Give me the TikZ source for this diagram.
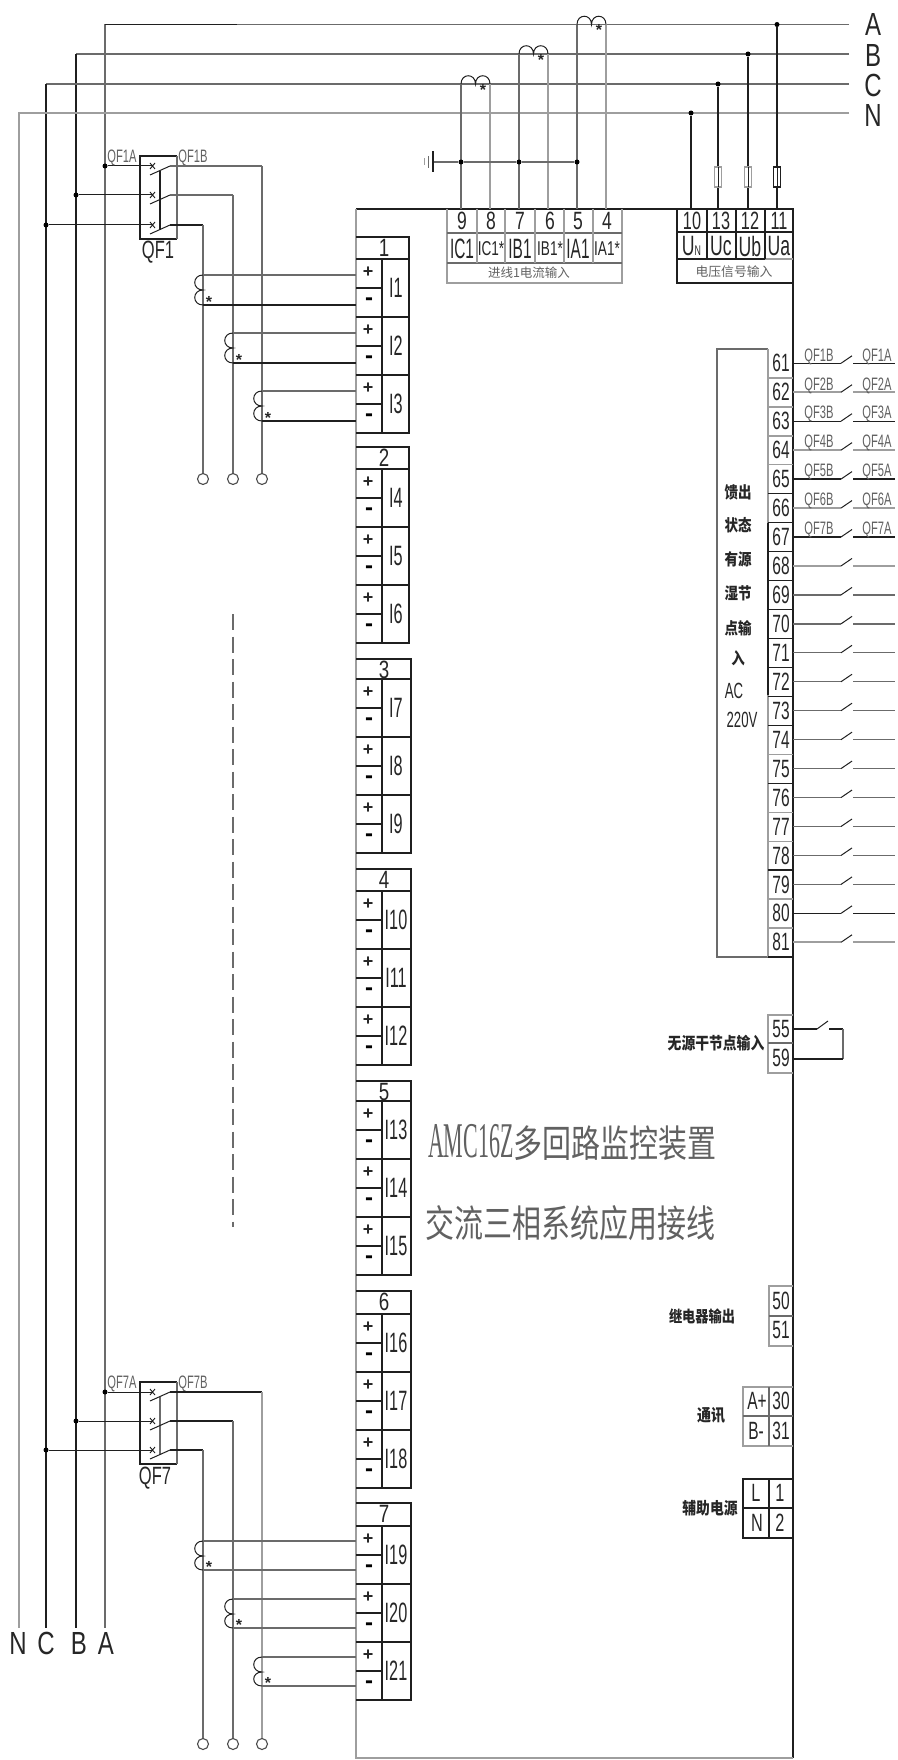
\documentclass[tikz,border=0pt]{standalone}
\usepackage{fontspec}
\setmainfont{Liberation Sans}
\newfontfamily\cjk{Noto Sans CJK SC}
\newfontfamily\srf{Liberation Serif}
\newcommand{\tx}[3]{\scalebox{#1}[1]{\fontsize{#2}{#2}\selectfont #3}}
\newcommand{\cj}[2]{{\cjk\fontsize{#1}{#1}\selectfont #2}}
\newcommand{\cjb}[2]{\scalebox{1}[1.2]{\cjk\fontsize{#1}{#1}\selectfont\bfseries #2}}
\newcommand{\cjt}[1]{\scalebox{1}[1.3]{\cjk\fontsize{29}{29}\selectfont #1}}
\tikzset{
  wk/.style={line width=1.3pt,draw=black!88},
  wm/.style={line width=1.3pt,draw=black!58},
  wg/.style={line width=1.8pt,draw=black!38},
  lb/.style={inner sep=0pt,outer sep=0pt,text=black!85},
  lg/.style={inner sep=0pt,outer sep=0pt,text=black!62},
  dot/.style={circle,fill=black,inner sep=0pt,minimum size=5pt},
  ring/.style={circle,draw=black!70,line width=1.1pt,fill=white,inner sep=0pt,minimum size=11pt},
}
\begin{document}
\begin{tikzpicture}[x=1pt,y=-1pt]
\useasboundingbox (0,0) rectangle (897,1760);
% bus coordinates
\coordinate (Ae) at (849,24.5);\coordinate (Be) at (849,54);\coordinate (Ce) at (849,84);\coordinate (Ne) at (849,113);
\coordinate (Ac) at (105,24.5);\coordinate (Bc) at (76,54);\coordinate (Cc) at (46,84);\coordinate (Nc) at (19,113);
\coordinate (Ab) at (105,1628);\coordinate (Bb) at (76,1628);\coordinate (Cb) at (46,1628);\coordinate (Nb) at (19,1628);
\coordinate (Am) at (237,24.5);
\draw[wm] (Ae) -- (Ac) -- (Ab);
\draw[wk] (Am) -- (Ac);
\draw[wm] (Be) -- (Bc);
\draw[wk] (Bc) -- (Bb);
\draw[wm] (Ce) -- (Cc);
\draw[wk] (Cc) -- (Cb);
\draw[wg] (Ne) -- (Nc) -- (Nb);
\node[lb] (lA) at (873,24) {\tx{.75}{32}{A}};
\node[lb] (lB) at (873,55) {\tx{.75}{32}{B}};
\node[lb] (lC) at (873,85) {\tx{.75}{32}{C}};
\node[lb] (lN) at (873,115) {\tx{.75}{32}{N}};
\node[lb] (bN) at (18,1643) {\tx{.75}{32}{N}};
\node[lb] (bC) at (46,1643) {\tx{.75}{32}{C}};
\node[lb] (bB) at (79,1643) {\tx{.75}{32}{B}};
\node[lb] (bA) at (106,1643) {\tx{.75}{32}{A}};
% main device frame
\coordinate (mTL) at (356,209);\coordinate (mTR) at (793,209);\coordinate (mBR) at (793,1758);\coordinate (mBL) at (356,1758);
\draw[wk] (mTL) -- (mTR) -- (mBR);
\draw[wg] (mBR) -- (mBL) -- (mTL);
% breakers
\foreach \q/\bt/\bb/\ya/\yb/\yc/\lx/\ly/\st in {1/156/239/166/195/225/158/252/wk,7/1382/1464/1392/1421/1450/155/1478/wm}{
  \coordinate (q\q tl) at (140,\bt);\coordinate (q\q tr) at (177,\bt);
  \coordinate (q\q bl) at (140,\bb);\coordinate (q\q br) at (177,\bb);
  \draw[wk] (q\q tr) -- (q\q tl) -- (q\q bl) -- (q\q br);
  \draw[wm] (q\q tr) -- (q\q br);
  \coordinate (q\q ma) at (160,\ya+5);\coordinate (q\q mc) at (160,\yc+5);
  \draw[\st] (q\q ma) -- (q\q mc);
  \foreach \yy/\bx in {\ya/105,\yb/76,\yc/46}{
    \node[dot] (j\q\bx) at (\bx,\yy) {};
    \coordinate (s\q\bx) at (153,\yy);
    \coordinate (t\q\bx) at (170,\yy);
    \coordinate (u\q\bx) at (150,\yy+9);
    \draw[wk,line width=1pt] (j\q\bx) -- (s\q\bx);
    \draw[wk,line width=.9pt] (150,\yy-3) -- (155,\yy+3) (150,\yy+3) -- (155,\yy-3);
    \draw[wk,line width=1pt] (u\q\bx) -- (t\q\bx);
  }
  \node[lb] (qn\q) at (\lx,\ly) {\tx{.66}{25}{QF\q}};
  \node[lg] (qa\q) at (122,\bt+2) {\tx{.62}{18}{QF\q A}};
  \node[lg] (qb\q) at (193,\bt+2) {\tx{.62}{18}{QF\q B}};
}
% breaker outputs
\foreach \yy/\xo/\st in {166/262/wm,195/233/wm,225/203/wk,1392/262/wk,1421/233/wk,1450/203/wk}{
  \coordinate (oa\yy) at (170,\yy);\coordinate (ob\yy) at (\xo,\yy);
  \draw[\st] (oa\yy) -- (ob\yy);
}
\foreach \xo in {203,233,262}{
  \node[ring] (r\xo) at (\xo,479) {};
  \node[ring] (R\xo) at (\xo,1744) {};
}
\draw[wm] (ob225) -- (r203);
\draw[wm] (ob195) -- (r233);
\draw[wm] (ob166) -- (r262);
\draw[wm] (ob1450) -- (R203);
\draw[wm] (ob1421) -- (R233);
\draw[wg,line width=1.5pt] (ob1392) -- (R262);
\coordinate (dsa) at (233,614);\coordinate (dsb) at (233,1227);
\draw[wm,line width=1.4pt,dash pattern=on 16pt off 6.5pt] (dsa) -- (dsb);
% current transformers to modules
\foreach \xc/\yt/\yb/\st in {203/275/305/wk,233/333/363/wk,262/391/421/wk,203/1541/1570/wm,233/1599/1628/wm,262/1657/1686/wm}{
  \coordinate (ca\yt) at (\xc,\yt);\coordinate (cb\yt) at (\xc,\yb);
  \coordinate (ea\yt) at (356,\yt);\coordinate (eb\yt) at (356,\yb);
  \draw[wm,line width=1.1pt] (ca\yt) -- (ea\yt);
  \draw[\st] (cb\yt) -- (eb\yt);
  \draw[wk,line width=1pt] (ca\yt) .. controls (\xc-11,\yt) and (\xc-11,\yt+15) .. (\xc,\yt+15) .. controls (\xc-11,\yt+15) and (\xc-11,\yb) .. (cb\yt);
  \node[lb] (st\yt) at (\xc+6,\yb-3) {\tx{1}{16}{\textbf{*}}};
}
% top current transformers
\foreach \xa/\xb/\yb/\tp in {461/490/84/1,519/548/54/2,577/606/24.5/3}{
  \coordinate (ct\tp a) at (\xa,209);\coordinate (ct\tp b) at (\xb,209);
  \coordinate (cu\tp a) at (\xa,\yb);\coordinate (cu\tp b) at (\xb,\yb);
  \draw[wm] (ct\tp a) -- (cu\tp a);
  \draw[wg] (ct\tp b) -- (cu\tp b);
  \draw[wk,line width=1pt] (cu\tp a) .. controls (\xa,\yb-11) and (\xa+14.5,\yb-11) .. (\xa+14.5,\yb) .. controls (\xa+14.5,\yb-11) and (\xb,\yb-11) .. (cu\tp b);
  \node[lb] (sx\tp) at (\xb-7,\yb+6) {\tx{1}{16}{\textbf{*}}};
}
% ground
\node[dot] (g1) at (461,162) {};\node[dot] (g2) at (519,162) {};\node[dot] (g3) at (577,162) {};
\coordinate (g0) at (433,162);
\draw[wm] (g0) -- (g1) -- (g2) -- (g3);
\draw[wk,line width=1.5pt] (433,151.5) -- (433,172.5);
\draw[wm,line width=1.2pt] (428.5,156) -- (428.5,168);
\draw[wg,line width=1.2pt] (424.5,158.5) -- (424.5,165.5);
% voltage inputs
\foreach \xw/\yt/\tp in {691/113/u,718/84/c,748/54/b,777/24.5/a}{
  \node[dot] (v\tp) at (\xw,\yt) {};
  \coordinate (vt\tp) at (\xw,209);
  \draw[wk] (v\tp) -- (vt\tp);
}
\foreach \xw/\st in {718/wg,748/wg,777/wk}{
  \draw[\st,line width=1.2pt,fill=white] (\xw-3.5,167) rectangle (\xw+3.5,187);
  \draw[wk,line width=1pt] (\xw,167) -- (\xw,187);
}
% current terminal block
\draw[wg,line width=1.4pt] (447,209) -- (447,283) -- (622,283) -- (622,209);
\draw[wm,line width=1.1pt] (447,233) -- (622,233) (447,263) -- (622,263);
\foreach \xx in {477,505,535,564,593}{\draw[wg,line width=1.4pt] (\xx,209) -- (\xx,263);}
\foreach \xx/\nn/\lbl/\fs/\sx in {462/9/IC1/28/.55,491/8/IC1*/20/.68,520/7/IB1/28/.55,550/6/IB1*/20/.68,578/5/IA1/28/.55,607/4/IA1*/20/.68}{
  \node[lb] (tn\nn) at (\xx,221) {\tx{.7}{25}{\nn}};
  \node[lb] (tl\nn) at (\xx,249) {\tx{\sx}{\fs}{\lbl}};
}
\node[lg] (cap1) at (529,273) {\cj{12.5}{进线1电流输入}};
% voltage terminal block
\draw[wk] (677,209) -- (677,283) -- (793,283);
\draw[wk] (677,232) -- (793,232);
\draw[wk] (677,259) -- (765,259);
\draw[wg,line width=1.4pt] (765,259) -- (793,259);
\foreach \xx in {707,736,765}{\draw[wk] (\xx,209) -- (\xx,259);}
\foreach \xx/\nn in {692/10,721/13,750/12,779/11}{\node[lb] (vn\nn) at (\xx,221) {\tx{.65}{25}{\nn}};}
\node[lb] (vl1) at (691.5,246) {\tx{.63}{28}{U{\fontsize{14}{14}\selectfont N}}};
\node[lb] (vl2) at (721,246) {\tx{.63}{28}{Uc}};
\node[lb] (vl3) at (750,246) {\tx{.63}{28}{Ub}};
\node[lb] (vl4) at (779,246) {\tx{.63}{28}{Ua}};
\node[lg] (cap2) at (734,272) {\cj{12.8}{电压信号输入}};
% current input modules
\foreach \m/\tp/\hb/\rx/\first in {1/237/259/409/1,2/447/469/409/4,3/659/679/411/7,4/869/891/411/10,5/1081/1101/411/13,6/1291/1314/411/16,7/1503/1526/411/19}{
  \coordinate (mo\m a) at (356,\tp);\coordinate (mo\m b) at (\rx,\tp);
  \coordinate (mo\m c) at (\rx,\hb+174);\coordinate (mo\m d) at (356,\hb+174);
  \draw[wk] (mo\m a) -- (mo\m b) -- (mo\m c) -- (mo\m d);
  \draw[wk] (356,\hb) -- (\rx,\hb);
  \draw[wk] (382,\hb) -- (382,\hb+174);
  \node[lb] (mn\m) at (384,\tp+11) {\tx{.75}{25}{\m}};
  \foreach \k in {0,1,2}{
    \pgfmathtruncatemacro{\idx}{\first+\k}
    \pgfmathsetmacro{\yy}{\hb+58*\k}
    \draw[wk] (356,\yy+29) -- (382,\yy+29);
    \ifnum\k>0 \draw[wk] (356,\yy) -- (\rx,\yy);\fi
    \node[lb] (pl\idx) at (368,\yy+13) {\tx{1}{18}{\textbf{+}}};
    \node[lb,text=black] (mi\idx) at (369,\yy+43) {\tx{1}{24}{\textbf{-}}};
    \node[lb] (ii\idx) at (396,\yy+29) {\tx{.58}{28}{I\idx}};
  }
}
% digital input panel
\coordinate (pa) at (768,349);\coordinate (pb) at (717,349);\coordinate (pc) at (717,957);\coordinate (pd) at (793,957);
\draw[wm] (pa) -- (pb) -- (pc) -- (pd);
\draw[wg,line width=2pt] (768,349) -- (768,523);
\draw[wk] (768,523) -- (768,695);
\draw[wg,line width=2pt] (768,695) -- (768,957);
\foreach \n/\st/\wl in {61/wg/wk,62/wg/wg,63/wg/wk,64/wg/wg,65/wk/wk,66/wk/wg,67/wk/wk,68/wk/wg,69/wk/wm,70/wk/wm,71/wk/wm,72/wk/wm,73/wk/wm,74/wg/wm,75/wk/wm,76/wg/wm,77/wg/wm,78/wk/wm,79/wg/wm,80/wg/wk,81/wk/wg}{
  \pgfmathsetmacro{\yt}{349+28.95*(\n-61)}
  \pgfmathsetmacro{\ym}{\yt+14.3}
  \draw[\st,line width=1.3pt] (768,\yt+28.95) -- (793,\yt+28.95);
  \node[lb] (pn\n) at (781,\ym) {\tx{.62}{25}{\n}};
  \coordinate (wa\n) at (793,\ym);\coordinate (wb\n) at (841,\ym);
  \coordinate (wc\n) at (852,\ym-7.5);\coordinate (wd\n) at (853,\ym);\coordinate (we\n) at (895,\ym);
  \draw[\wl] (wa\n) -- (wb\n);
  \draw[wk,line width=1pt] (wb\n) -- (wc\n);
  \draw[\wl] (wd\n) -- (we\n);
}
\foreach \n/\q in {61/1,62/2,63/3,64/4,65/5,66/6,67/7}{
  \pgfmathsetmacro{\ym}{349+28.95*(\n-61)+7.5}
  \node[lg] (ql\q) at (819,\ym) {\tx{.62}{18}{QF\q B}};
  \node[lg] (qr\q) at (877,\ym) {\tx{.62}{18}{QF\q A}};
}
\foreach \yy/\wrd in {492/馈出,525/状态,559/有源,593/湿节,628/点输,658/入}{
  \node[lb] (ps\yy) at (738,\yy) {\cjb{13.5}{\wrd}};
}
\node[lb] (ps691) at (734,691) {\tx{.6}{22}{AC}};
\node[lb] (ps720) at (742,720) {\tx{.6}{22}{220V}};
% dry contact
\draw[wg,line width=1.6pt] (793,1015) -- (768,1015) -- (768,1073) -- (793,1073);
\draw[wm] (768,1043) -- (793,1043);
\node[lb] (n55) at (781,1029) {\tx{.62}{25}{55}};
\node[lb] (n59) at (781,1058) {\tx{.62}{25}{59}};
\coordinate (ca) at (793,1029);\coordinate (cb) at (817,1029);\coordinate (cc) at (828,1021);\coordinate (cd) at (829,1029);\coordinate (ce) at (843,1029);\coordinate (cf) at (843,1059);\coordinate (cg) at (793,1059);
\draw[wk] (ca) -- (cb);
\draw[wk,line width=1pt] (cb) -- (cc);
\draw[wk] (cd) -- (ce);
\draw[wm] (ce) -- (cf);
\draw[wk] (cf) -- (cg);
\node[lb] (dry) at (716,1043) {\cjb{13.8}{无源干节点输入}};
% title
\node[lg,anchor=west] (t1) at (428,1143) {\tx{.44}{50}{\srf AMC16Z}\cjt{多回路监控装置}};
\node[lg,anchor=west] (t2) at (425,1223) {\cjt{交流三相系统应用接线}};
% relay
\draw[wg,line width=1.4pt] (793,1286) -- (769,1286) -- (769,1346) -- (793,1346);
\draw[wm] (769,1316) -- (793,1316);
\node[lb] (n50) at (781,1301) {\tx{.62}{25}{50}};
\node[lb] (n51) at (781,1330) {\tx{.62}{25}{51}};
\node[lb] (rel) at (702,1316) {\cjb{13.2}{继电器输出}};
% comms
\draw[wg,line width=1.4pt] (793,1387) -- (743,1387) -- (743,1446) -- (793,1446);
\draw[wm] (743,1416) -- (793,1416) (769,1387) -- (769,1446);
\node[lb] (n30) at (781,1401) {\tx{.62}{25}{30}};
\node[lb] (n31) at (781,1431) {\tx{.62}{25}{31}};
\node[lb] (nAp) at (757,1401) {\tx{.62}{25}{A+}};
\node[lb] (nBm) at (756,1431) {\tx{.62}{25}{B-}};
\node[lb] (com) at (711,1415) {\cjb{14}{通讯}};
% aux power
\draw[wk] (793,1479) -- (743,1479) -- (743,1538) -- (793,1538);
\draw[wk] (743,1508) -- (793,1508) (769,1479) -- (769,1538);
\node[lb] (n1) at (780,1493) {\tx{.65}{25}{1}};
\node[lb] (n2) at (780,1523) {\tx{.65}{25}{2}};
\node[lb] (nL) at (756,1493) {\tx{.65}{25}{L}};
\node[lb] (nNn) at (757,1523) {\tx{.65}{25}{N}};
\node[lb] (aux) at (710,1508) {\cjb{13.8}{辅助电源}};
\end{tikzpicture}
\end{document}
